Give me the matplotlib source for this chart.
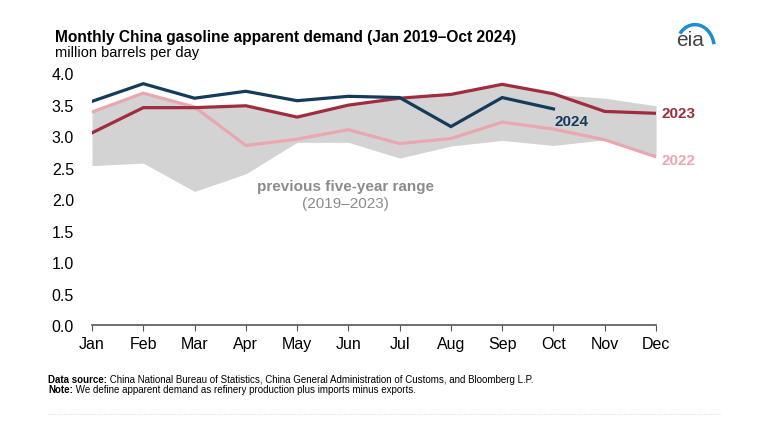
import matplotlib.pyplot as plt
from matplotlib.patches import Arc

# --- Data (million barrels per day) ---
months = ["Jan", "Feb", "Mar", "Apr", "May", "Jun",
          "Jul", "Aug", "Sep", "Oct", "Nov", "Dec"]
range_low = [2.53, 2.57, 2.12, 2.40, 2.90, 2.90,
             2.65, 2.84, 2.93, 2.85, 2.94, 2.67]
range_high = [3.38, 3.68, 3.46, 3.48, 3.30, 3.49,
              3.60, 3.66, 3.82, 3.66, 3.60, 3.48]
y2022 = [3.38, 3.68, 3.46, 2.85, 2.95, 3.10,
         2.88, 2.96, 3.22, 3.11, 2.94, 2.67]
y2023 = [3.05, 3.45, 3.45, 3.48, 3.30, 3.49,
         3.60, 3.66, 3.82, 3.67, 3.39, 3.36]
y2024 = [3.55, 3.83, 3.60, 3.71, 3.56, 3.63,
         3.61, 3.15, 3.61, 3.43]
y_ticks = [0.0, 0.5, 1.0, 1.5, 2.0, 2.5, 3.0, 3.5, 4.0]

NAVY = "#133b5c"
DARKRED = "#a02c3d"
PINK = "#eaa7b0"
BAND = "#d3d3d3"
LABEL_GRAY = "#8c8c8c"

plt.rcParams["font.family"] = ["Liberation Sans", "DejaVu Sans"]

fig = plt.figure(figsize=(7.68, 4.27), dpi=100)
ax = fig.add_axes([0.1198, 0.2365, 0.7344, 0.5902])

x = list(range(len(months)))
ax.fill_between(x, range_low, range_high, color=BAND, linewidth=0)
ax.plot(x, y2022, color=PINK, linewidth=2.3, solid_joinstyle="miter")
ax.plot(x, y2023, color=DARKRED, linewidth=2.3, solid_joinstyle="miter")
ax.plot(x[:len(y2024)], y2024, color=NAVY, linewidth=2.3,
        solid_joinstyle="miter")

ax.set_xlim(0, 11)
ax.set_ylim(0, 4.0)
ax.set_xticks(x)
ax.set_xticklabels(months, fontsize=11.5)
ax.set_yticks(y_ticks)
ax.set_yticklabels([f"{v:.1f}" for v in y_ticks], fontsize=11.5)
for side in ["top", "right", "left"]:
    ax.spines[side].set_visible(False)
ax.spines["bottom"].set_color("#555555")
ax.spines["bottom"].set_linewidth(1.2)
ax.tick_params(axis="x", length=4, color="#555555", pad=4)
ax.tick_params(axis="y", length=0, pad=13)

# series labels
ax.text(9.35, y2024[-1] - 0.08, "2024", color=NAVY, fontsize=11,
        fontweight="bold", ha="center", va="top")
ax.text(11.1, y2023[-1], "2023", color=DARKRED, fontsize=11,
        fontweight="bold", ha="left", va="center")
ax.text(11.1, y2022[-1] - 0.05, "2022", color=PINK, fontsize=11,
        fontweight="bold", ha="left", va="center")
ax.text(4.95, 2.21, "previous five-year range", color=LABEL_GRAY,
        fontsize=11, fontweight="bold", ha="center", va="center")
ax.text(4.95, 1.93, "(2019\u20132023)", color=LABEL_GRAY,
        fontsize=11, ha="center", va="center")

# titles
fig.text(0.0716, 0.913, "Monthly China gasoline apparent demand (Jan 2019\u2013Oct 2024)",
         fontsize=11.2, fontweight="bold", ha="left", va="center")
fig.text(0.0716, 0.876, "million barrels per day", fontsize=10.5,
         ha="left", va="center")

# eia logo
fig.text(0.898, 0.905, "eia", fontsize=15, color="#444444",
         ha="center", va="center")
fig.add_artist(Arc((0.905, 0.885), 0.05, 0.11, theta1=20, theta2=120,
                   transform=fig.transFigure, color="#1d8fd0", linewidth=2.5))

# footnotes: bold lead-in followed by regular text
renderer = fig.canvas.get_renderer()
notes = [
    (0.111, "Data source:", " China National Bureau of Statistics, China General "
     "Administration of Customs, and Bloomberg L.P."),
    (0.086, "Note:", " We define apparent demand as refinery production plus "
     "imports minus exports."),
]
for ypos, lead, rest in notes:
    t = fig.text(0.0625, ypos, lead, fontsize=7, fontweight="bold",
                 ha="left", va="center")
    bb = t.get_window_extent(renderer=renderer)
    fig.text(bb.x1 / fig.bbox.width, ypos, rest, fontsize=7,
             ha="left", va="center")

fig.add_artist(plt.Line2D([0.0625, 0.9375], [0.028, 0.028],
                          transform=fig.transFigure, color="#e3e3e3",
                          linewidth=0.8, linestyle=(0, (1, 1))))

fig.savefig("out.png", dpi=100)
